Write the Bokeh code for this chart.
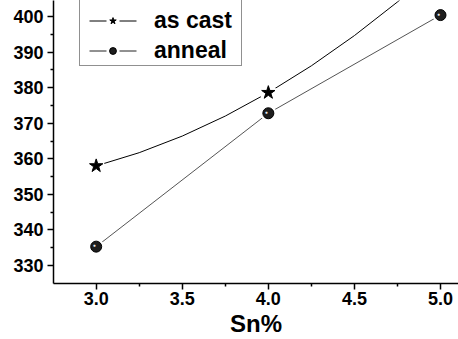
from bokeh.plotting import figure
from bokeh.models import Range1d, FixedTicker, PrintfTickFormatter, Legend, LegendItem
from bokeh.core.properties import value
from bokeh.embed import file_html
from bokeh.resources import INLINE

# ---- data ----
sn = [3.0, 4.0, 5.0]
as_cast = [358.0, 378.6, 414.5]
anneal = [335.3, 372.8, 400.4]
x_ticks = [3.0, 3.5, 4.0, 4.5, 5.0]
x_minor = [3.25, 3.75, 4.25, 4.75]
y_ticks = [330, 340, 350, 360, 370, 380, 390, 400]
y_minor = [335, 345, 355, 365, 375, 385, 395]
series_names = ["as cast", "anneal"]
x_title = "Sn%"

FONT = "Liberation Sans"
NAN = [float("nan")] * len(sn)   # legend-only renderers draw nothing in the plot

p = figure(width=458, height=339, output_backend="svg", toolbar_location=None,
           x_range=Range1d(2.752, 5.1046), y_range=Range1d(324.94, 404.5),
           min_border_left=53, min_border_right=0, min_border_top=0, min_border_bottom=56)
p.outline_line_color = None
p.xgrid.visible = False
p.ygrid.visible = False
p.background_fill_color = "white"

for ax in (p.xaxis[0], p.yaxis[0]):
    ax.axis_line_width = 1.5
    ax.axis_line_color = "black"
    ax.major_tick_line_color = "black"
    ax.major_tick_line_width = 1.5
    ax.minor_tick_line_color = "black"
    ax.minor_tick_line_width = 1.5
    ax.major_tick_in = 0
    ax.major_tick_out = 6
    ax.minor_tick_in = 0
    ax.minor_tick_out = 3
    ax.major_label_text_font = FONT
    ax.major_label_text_font_style = "bold"
    ax.major_label_text_font_size = "18px"
    ax.major_label_text_color = "black"

xa = p.xaxis[0]
xa.ticker = FixedTicker(ticks=x_ticks, minor_ticks=x_minor)
xa.formatter = PrintfTickFormatter(format="%.1f")
xa.major_label_standoff = 2
xa.axis_label = x_title
xa.axis_label_text_font = FONT
xa.axis_label_text_font_style = "bold"
xa.axis_label_text_font_size = "24px"
xa.axis_label_text_color = "black"
xa.axis_label_standoff = 2

ya = p.yaxis[0]
ya.ticker = FixedTicker(ticks=y_ticks, minor_ticks=y_minor)
ya.major_label_standoff = 4

# anneal line (straight segments)
p.line(sn, anneal, line_color="#555555", line_width=1)

# as cast smooth curve: quadratic bezier through the three points
cy = 2 * as_cast[1] - (as_cast[0] + as_cast[2]) / 2
p.quadratic(x0=[sn[0]], y0=[as_cast[0]], x1=[sn[2]], y1=[as_cast[2]],
            cx=[sn[1]], cy=[cy], line_color="black", line_width=1)

# white halos (gap between line and symbol)
p.scatter(sn, as_cast, marker="circle", size=17, fill_color="white", line_color=None)
p.scatter(sn, anneal, marker="circle", size=16, fill_color="white", line_color=None)

star = p.scatter(sn, as_cast, marker="star", size=14, fill_color="black", line_color="black")
ball = p.scatter(sn, anneal, marker="circle", size=11, fill_color="#1e1e1e", line_color="#000000")
p.text(x=sn, y=anneal, text=value("\u25cf"), text_font_size=value("5px"),
       text_color="#e8e8e8", x_offset=-2, y_offset=-1.5,
       text_align="center", text_baseline="middle")

# legend-only renderers (NaN y -> nothing drawn in the plot area)
dummy = p.scatter(x=sn, y=NAN, marker="circle", fill_alpha=0, line_alpha=0)
leg_l1 = p.line(x=sn, y=NAN, line_color="black", line_width=1, line_dash="17 13", line_dash_offset=22)
leg_l2 = p.line(x=sn, y=NAN, line_color="#222222", line_width=1, line_dash="17 13", line_dash_offset=22)

legend = Legend(items=[
    LegendItem(label=" ", renderers=[dummy]),
    LegendItem(label=series_names[0], renderers=[leg_l1, star]),
    LegendItem(label=series_names[1], renderers=[leg_l2, ball]),
], location=(26, 217))
legend.label_text_font = FONT
legend.label_text_font_style = "bold"
legend.label_text_font_size = "23px"
legend.label_text_line_height = 1.1
legend.label_text_color = "black"
legend.glyph_width = 63
legend.glyph_height = 17
legend.label_height = 17
legend.label_standoff = 10
legend.label_width = 86
legend.padding = 1
legend.spacing = 3
legend.margin = 0
legend.border_line_color = "#222222"
legend.border_line_width = 1.5
legend.background_fill_color = "white"
legend.background_fill_alpha = 1
p.add_layout(legend, "center")

open("out.html", "w").write(file_html(p, INLINE))
